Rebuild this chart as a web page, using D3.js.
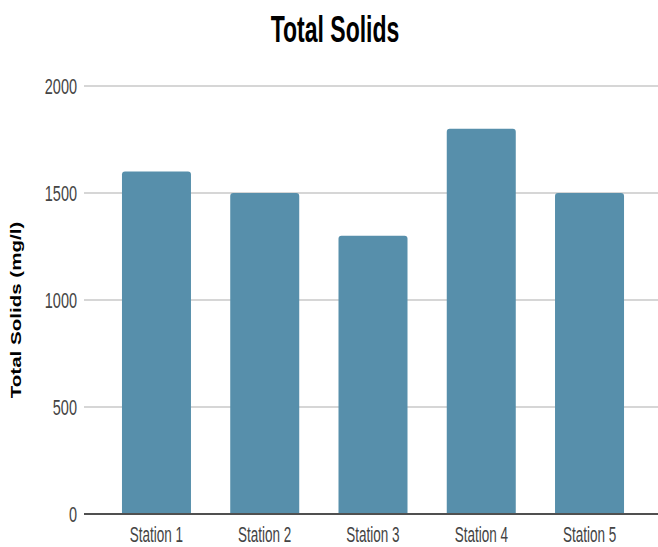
<!DOCTYPE html>
<html>
<head>
<meta charset="utf-8">
<script src="https://cdn.jsdelivr.net/npm/d3@7"></script>
<style>
  html, body { margin: 0; padding: 0; background: #ffffff; }
  svg { display: block; }
</style>
</head>
<body>
<svg id="chart" width="658" height="547"></svg>
<script>
// Chart data
const stations = ["Station 1", "Station 2", "Station 3", "Station 4", "Station 5"];
const totalSolids = [1600, 1500, 1300, 1800, 1500];
const yTicks = [0, 500, 1000, 1500, 2000];
const chartTitle = "Total Solids";
const yAxisTitle = "Total Solids (mg/l)";

const plot = { left: 84, right: 658, top: 86, bottom: 514 };

const svg = d3.select("#chart");

const x = d3.scaleBand()
  .domain(stations)
  .range([87, 659])
  .paddingInner(0.3626)
  .paddingOuter(0.323);

const y = d3.scaleLinear()
  .domain([0, 2000])
  .range([plot.bottom, plot.top]);

// Horizontal gridlines
svg.append("g")
  .selectAll("line")
  .data(yTicks.filter(d => d !== 0))
  .join("line")
  .attr("x1", plot.left)
  .attr("x2", plot.right)
  .attr("y1", d => y(d))
  .attr("y2", d => y(d))
  .attr("stroke", "#d6d6d6")
  .attr("stroke-width", 2);

// Bars with slightly rounded top corners
const r = 3;
function barPath(x0, w, yTop, yBase) {
  return `M${x0},${yBase} L${x0},${yTop + r} Q${x0},${yTop} ${x0 + r},${yTop} ` +
         `L${x0 + w - r},${yTop} Q${x0 + w},${yTop} ${x0 + w},${yTop + r} L${x0 + w},${yBase} Z`;
}
svg.append("g")
  .selectAll("path")
  .data(stations.map((s, i) => ({ s, v: totalSolids[i] })))
  .join("path")
  .attr("d", d => barPath(x(d.s), x.bandwidth(), y(d.v), y(0)))
  .attr("fill", "#578fab");

// Baseline
svg.append("line")
  .attr("x1", plot.left).attr("x2", plot.right)
  .attr("y1", y(0)).attr("y2", y(0))
  .attr("stroke", "#505050")
  .attr("stroke-width", 2);

// Helper: text drawn taller than wide (stretch factor k)
function stretchedText(g, px, py, str, opts) {
  const k = opts.stretch;
  const grp = g.append("g")
    .attr("transform", `translate(${px},${py}) ${opts.rotate ? "rotate(-90) scale(" + k + ",1)" : "scale(1," + k + ")"}`);
  grp.append("text")
    .attr("text-anchor", opts.anchor || "middle")
    .attr("dominant-baseline", "central")
    .attr("font-family", opts.family)
    .attr("font-size", opts.size)
    .attr("font-weight", opts.weight || "normal")
    .attr("fill", opts.fill || "#444")
    .text(str);
}

const narrow = "'Liberation Sans Narrow', 'Arial Narrow', sans-serif";

// Y tick labels
const yAxisG = svg.append("g");
yTicks.forEach(t => {
  stretchedText(yAxisG, 77, y(t), d3.format("d")(t), {
    anchor: "end", family: narrow, size: 14.5, stretch: 1.5, fill: "#444"
  });
});

// X tick labels
const xAxisG = svg.append("g");
stations.forEach(s => {
  stretchedText(xAxisG, x(s) + x.bandwidth() / 2, 535, s, {
    anchor: "middle", family: narrow, size: 13.5, stretch: 1.6, fill: "#444"
  });
});

// Title
stretchedText(svg, 335, 29, chartTitle, {
  anchor: "middle", family: narrow, size: 23, stretch: 1.6, weight: "bold", fill: "#000"
});

// Y axis title
stretchedText(svg, 16, 310, yAxisTitle, {
  anchor: "middle", family: "'Liberation Sans', Arial, sans-serif", size: 15, stretch: 1.37,
  weight: "bold", fill: "#000", rotate: true
});
</script>
</body>
</html>
